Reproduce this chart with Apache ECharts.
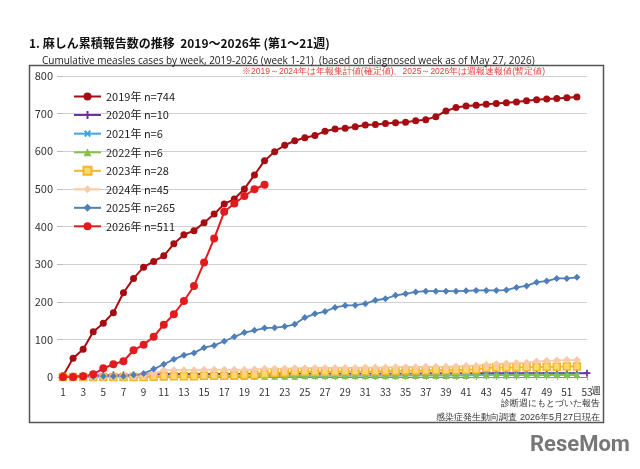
<!DOCTYPE html>
<html>
<head>
<meta charset="utf-8">
<script src="https://cdn.jsdelivr.net/npm/echarts@6/dist/echarts.min.js"></script>
<style>
html, body { margin: 0; padding: 0; background: #fff; }
#main { width: 640px; height: 469px; }
</style>
</head>
<body>
<div id="main"></div>
<script>
// 週 1..53
var weeks = [];
for (var i = 1; i <= 53; i++) weeks.push(String(i));

var names = ['2019年 n=744', '2020年 n=10', '2021年 n=6', '2022年 n=6', '2023年 n=28', '2024年 n=45', '2025年 n=265', '2026年 n=511'];

var w2019 = [3,50,74,120,143,171,224,262,292,307,322,354,378,389,410,433,460,473,500,537,575,599,616,628,636,642,653,659,661,665,670,671,674,676,677,681,684,692,707,716,720,722,725,727,729,731,734,737,739,740,742,744];
var w2020 = [1,2,3,4,5,5,5,5,6,7,8,8,8,8,8,8,8,8,8,8,9,9,9,9,9,9,9,9,9,9,9,9,9,9,9,9,10,10,10,10,10,10,10,10,10,10,10,10,10,10,10,10,10];
var w2021 = [0,0,1,1,1,1,1,1,1,1,2,2,2,2,2,2,3,3,3,3,3,4,4,4,4,4,4,5,5,5,5,5,5,5,5,5,5,5,5,5,5,5,6,6,6,6,6,6,6,6,6,6];
var w2022 = [0,0,0,0,0,0,0,0,0,0,0,1,1,1,1,1,1,1,2,2,2,2,2,2,3,3,3,3,3,3,3,3,3,3,4,4,4,4,4,4,4,5,5,5,5,5,6,6,6,6,6,6];
var w2023 = [0,0,0,0,0,0,0,0,0,1,2,2,2,2,3,3,3,4,5,6,8,11,12,13,14,14,14,14,15,15,15,15,16,16,17,17,17,18,18,18,19,20,24,25,25,25,26,26,27,27,28,28];
var w2024 = [0,0,0,0,0,0,0,1,2,9,18,18,18,18,19,19,19,19,19,20,22,22,22,23,23,24,24,24,24,24,25,25,25,26,26,26,27,27,27,28,29,30,32,34,36,37,38,41,43,44,45,45];
var w2025 = [0,1,1,1,2,2,2,5,9,21,34,47,58,64,78,84,95,107,118,124,130,131,134,140,158,168,174,185,190,191,195,204,208,217,221,226,228,228,228,228,229,230,230,230,231,238,242,252,255,262,262,265];
var w2026 = [0,0,2,7,23,34,42,71,86,107,139,167,202,242,304,368,439,461,481,499,511];

var plusPath = 'path://M3,0H5V3H8V5H5V8H3V5H0V3H3Z';

function line(name, data, color, symbol, size, width, fill) {
    return {
        name: name,
        type: 'line',
        data: data,
        symbol: symbol,
        symbolSize: size,
        showSymbol: true,
        showAllSymbol: true,
        animation: false,
        lineStyle: { color: color, width: width },
        itemStyle: { color: fill || color, borderColor: color, borderWidth: fill ? 1.5 : 0 }
    };
}

var series = [
    line(names[0], w2019, '#a50d12', 'circle', 7, 2),
    line(names[1], w2020, '#7030a0', plusPath, 7, 1.8),
    line(names[2], w2021, '#3fa6e0', plusPath, 7, 1.8),
    line(names[3], w2022, '#84c150', 'triangle', 7, 1.8),
    line(names[4], w2023, '#f3b52d', 'rect', 7, 1.8, '#fbd86a'),
    line(names[5], w2024, '#f8cba6', 'diamond', 8, 1.8),
    line(names[6], w2025, '#4f7fb8', 'diamond', 7, 1.8),
    line(names[7], w2026, '#e21b1f', 'circle', 8, 2)
];
series[2].symbolRotate = 45;

var myChart = echarts.init(document.getElementById('main'), null, { renderer: 'canvas' });
myChart.setOption({
    backgroundColor: '#fff',
    textStyle: { fontFamily: 'Noto Sans CJK JP, DejaVu Sans, sans-serif' },
    title: [{
        text: '1. 麻しん累積報告数の推移  2019～2026年 (第1～21週)',
        left: 24, top: 32,
        textStyle: { fontSize: 12, fontWeight: 'bold', color: '#111' }
    }, {
        text: 'Cumulative measles cases by week, 2019-2026 (week 1-21)  (based on diagnosed week as of May 27, 2026)',
        left: 37, top: 51,
        textStyle: { fontSize: 10, fontWeight: 'normal', color: '#222', fontFamily: 'Open Sans, sans-serif' }
    }],
    legend: {
        orient: 'vertical',
        left: 68, top: 86,
        itemWidth: 27, itemHeight: 10, itemGap: 7.5,
        textStyle: { fontSize: 11, color: '#222' },
        data: names
    },
    grid: { left: 63, right: 53, top: 76, bottom: 92 },
    xAxis: {
        type: 'category',
        data: weeks,
        boundaryGap: false,
        axisLine: { lineStyle: { color: '#888' } },
        axisTick: { interval: 0, length: 3, lineStyle: { color: '#aaa' } },
        axisLabel: { interval: 1, fontSize: 10, color: '#333', margin: 10 }
    },
    yAxis: {
        type: 'value',
        min: 0, max: 800, interval: 100,
        axisLine: { show: false },
        axisTick: { show: true, length: 6, lineStyle: { color: '#bbb' } },
        axisLabel: { fontSize: 11, color: '#333', margin: 10 },
        splitLine: { lineStyle: { color: '#d0d0d0' } }
    },
    graphic: [
        { type: 'rect', shape: { x: 29.5, y: 65.5, width: 574, height: 357 }, style: { fill: 'none', stroke: '#555', lineWidth: 1.5 }, z: -1 },
        { type: 'text', left: 242, top: 67, style: { text: '※2019～2024年は年報集計値(確定値)、2025～2026年は週報速報値(暫定値)', fill: '#e0403a', fontSize: 8.5 } },
        { type: 'text', left: 591, top: 386, style: { text: '週', fill: '#333', fontSize: 10 } },
        { type: 'text', right: 40, top: 399, style: { text: '診断週にもとづいた報告', fill: '#333', fontSize: 9, align: 'right' } },
        { type: 'text', right: 40, top: 413, style: { text: '感染症発生動向調査 2026年5月27日現在', fill: '#333', fontSize: 9, align: 'right' } },
        { type: 'text', left: 530, top: 434, style: { text: 'ReseMom', fill: '#777', fontSize: 22, fontWeight: 'bold', fontFamily: 'Roboto, sans-serif' } }
    ],
    series: series
});
</script>
</body>
</html>
